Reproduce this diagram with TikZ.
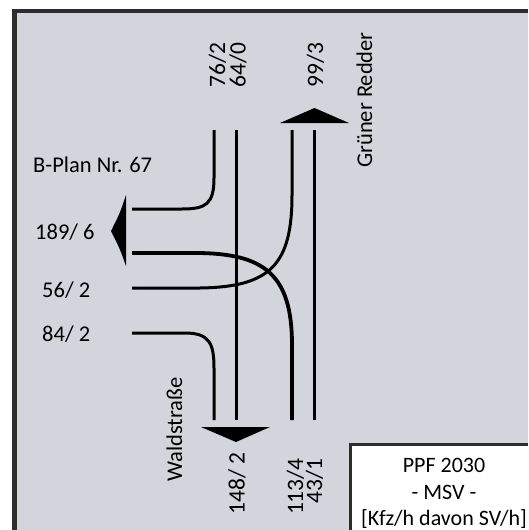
\documentclass[tikz,border=0pt]{standalone}
\usepackage{fontspec}
\setmainfont{Carlito}
\definecolor{bgfill}{RGB}{210,213,219}
\definecolor{framecol}{RGB}{45,45,45}
\begin{document}
\begin{tikzpicture}[x=1pt,y=-1pt,
  flow/.style={line width=3pt, black},
  thickflow/.style={line width=3.8pt, black},
  lbl/.style={inner sep=0pt, font=\fontsize{22.5}{27}\selectfont},
  vlbl/.style={inner sep=0pt, rotate=90, font=\fontsize{23.5}{27}\selectfont},
  boxtxt/.style={inner sep=0pt, anchor=base, font=\fontsize{22}{26}\selectfont},
  head/.style={fill=black, draw=none}]
\useasboundingbox (0,0) rectangle (528,530);
\fill[white] (0,0) rectangle (528,530);
% panel: grey field with a dark frame on top and left (right and bottom run off the page)
\fill[bgfill] (14.3,11) rectangle (528,530);
\draw[framecol, line width=4.5pt] (14.3,530) -- (14.3,11) -- (528,11);

% named points
\coordinate (Atop) at (214,130);
\coordinate (Aend) at (132,209);
\coordinate (Btop) at (236,130);
\coordinate (Bbot) at (236,420);
\coordinate (Dtop) at (314,130);
\coordinate (Dbot) at (314,420);
\coordinate (C1top) at (292,130);
\coordinate (C1end) at (132,288);
\coordinate (C2start) at (132,253);
\coordinate (C2bot) at (292,420);
\coordinate (Estart) at (132,333);
\coordinate (Ebot) at (214,420);

% flows
\draw[flow] (Atop) -- (214,178) .. controls (214,204) and (206,209) .. (182,209) -- (Aend);
\draw[flow] (Btop) -- (Bbot);
\draw[flow] (Dtop) -- (Dbot);
\draw[flow] (C1top) -- (292,195) .. controls (292,265) and (270,287) .. (200,288) -- (C1end);
\draw[thickflow] (C2start) -- (195,253) .. controls (265,253) and (292,275) .. (292,345) -- (C2bot);
\draw[flow] (Estart) -- (185,333) .. controls (209,333) and (214,343) .. (214,368) -- (Ebot);

% arrow heads
\fill[head] (280,123) -- (314.5,108) -- (349,123) -- cycle;
\fill[head] (201,427) -- (236,442) -- (270,427) -- cycle;
\fill[head] (126,195) .. controls (120,213) .. (111,231) .. controls (120,249) .. (126,266) -- cycle;

% horizontal labels
\node[lbl, anchor=base west] (bplan) at (33,172) {B-Plan Nr. 67};
\node[lbl, anchor=base west] (l189) at (35,239) {189/ 6};
\node[lbl, anchor=base west] (l56) at (42,297) {56/ 2};
\node[lbl, anchor=base west] (l84) at (42,341) {84/ 2};

% vertical labels
\node[vlbl, anchor=base west] (l76) at (225,88) {76/2};
\node[vlbl, anchor=base west] (l64) at (245.5,88) {64/0};
\node[vlbl, anchor=base west] (l99) at (323,88) {99/3};
\node[vlbl, anchor=base west, font=\fontsize{22.5}{27}\selectfont] (gruen) at (372,168) {Grüner Redder};
\node[vlbl, anchor=base west, font=\fontsize{22.5}{27}\selectfont] (wald) at (182,482) {Waldstraße};
\node[vlbl, anchor=base east] (l148) at (244.5,452) {148/ 2};
\node[vlbl, anchor=base east] (l113) at (303,458) {113/4};
\node[vlbl, anchor=base east] (l43) at (322,458) {43/1};

% legend box (runs off the right and bottom edges)
\fill[white] (350.5,444.5) rectangle (528,530);
\draw[framecol, line width=3pt] (350.5,530) -- (350.5,444.5) -- (528,444.5);
\node[boxtxt] (ppf) at (444,472) {PPF 2030};
\node[boxtxt] (msv) at (444,499) {- MSV -};
\node[boxtxt] (unit) at (444,525) {[Kfz/h davon SV/h]};
\end{tikzpicture}
\end{document}
